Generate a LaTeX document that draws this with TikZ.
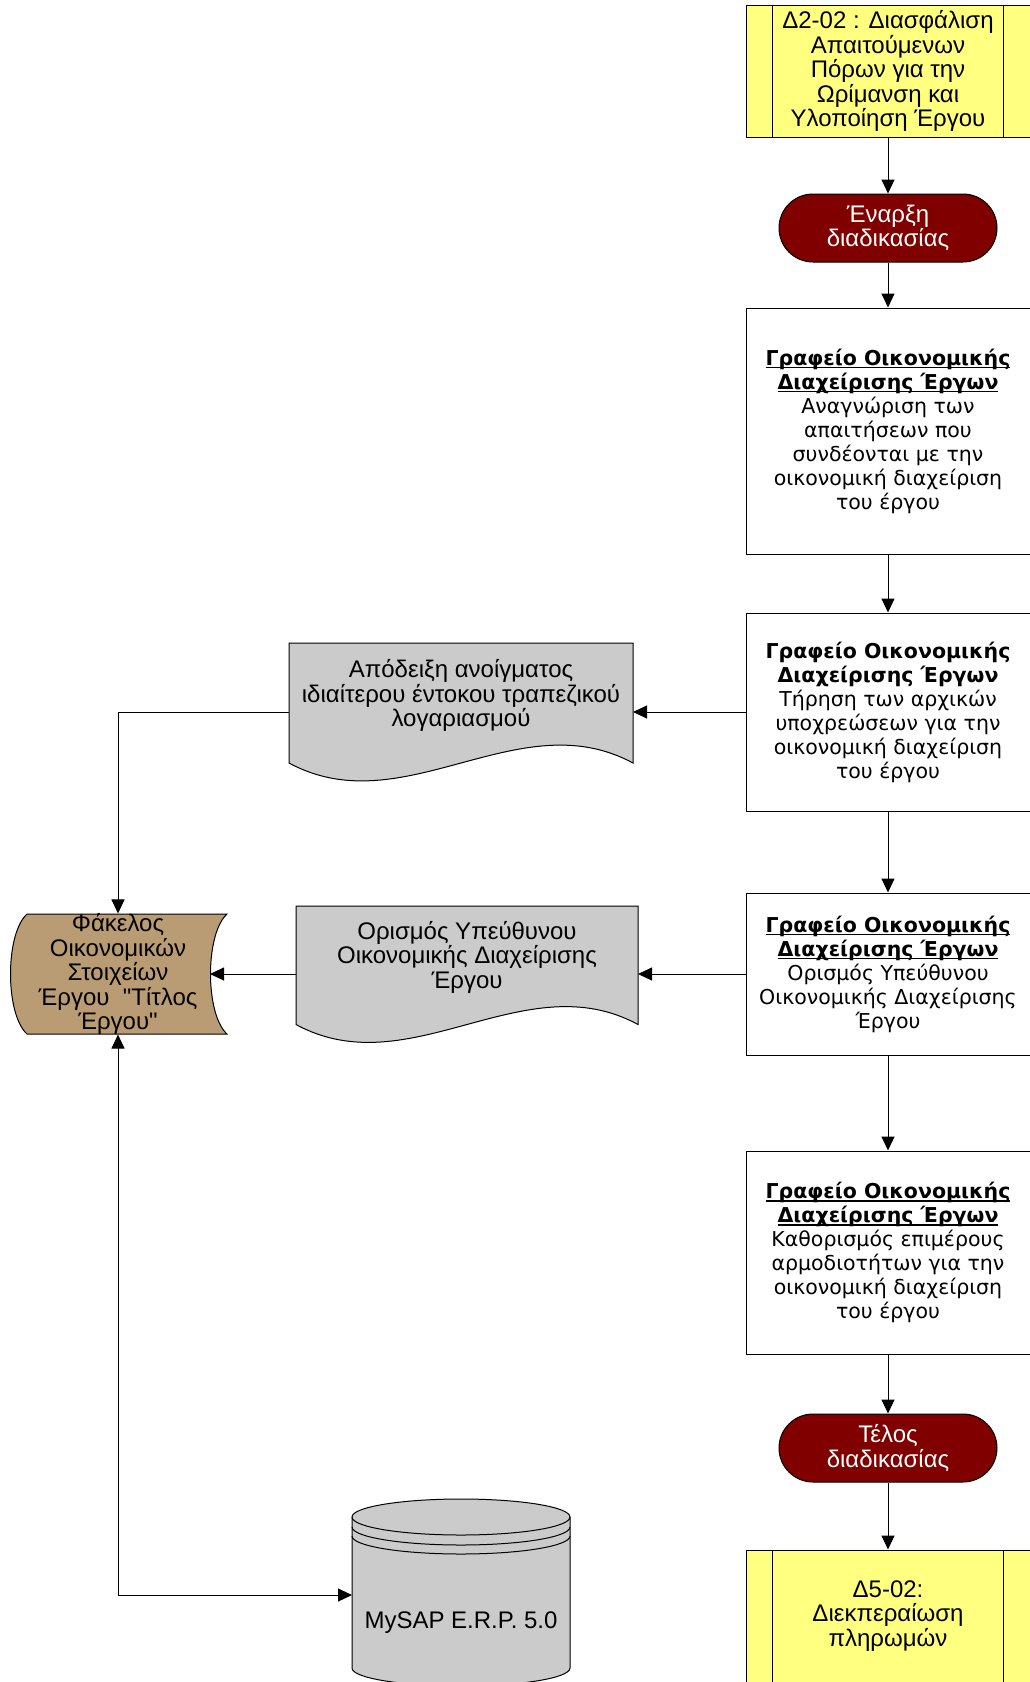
\documentclass[tikz,border=0pt]{standalone}
\usepackage{fontspec}
\setmainfont{Liberation Sans}
\newfontfamily\sqfont{Liberation Sans}[Ligatures=TeXOff]
\newfontfamily\vfont{DejaVu Sans}
\usetikzlibrary{arrows.meta}
\definecolor{yfill}{HTML}{FFFF80}
\definecolor{tred}{HTML}{800000}
\definecolor{dgray}{HTML}{CBCBCB}
\definecolor{fbrown}{HTML}{B99C73}
\newcommand\myul[1]{\setbox0\hbox{#1}\rlap{\rule[-3pt]{\wd0}{1.3pt}}\box0}
\newcommand\sq{{\sqfont"}}
\begin{document}
\begin{tikzpicture}[x=1pt,y=-1pt,line width=1pt,
  lsfont/.style={font=\fontsize{24}{24.5}\selectfont},
  ybox/.style={draw,fill=yfill,minimum width=284pt,minimum height=132pt,align=center,inner sep=0pt,lsfont},
  term/.style={draw,fill=tred,text=white,rounded corners=34pt,minimum width=218pt,minimum height=68pt,align=center,inner sep=0pt,lsfont},
  pbox/.style={draw,fill=white,minimum width=284pt,align=center,inner sep=0pt,font=\vfont\fontsize{20.5}{24}\selectfont},
  ghost/.style={inner sep=0pt,outer sep=0pt},
  dtext/.style={align=center,inner sep=0pt,lsfont},
  docshape/.style={draw,fill=dgray},
  arr/.style={-{Triangle[length=14pt,width=13pt]}},
  arrb/.style={{Triangle[length=14pt,width=13pt]}-{Triangle[length=14pt,width=13pt]}}
]
\fill[white] (0,0) rectangle (1029,1682);
\useasboundingbox (0,0) rectangle (1029,1682);

% right column
\node[ybox] (y1) at (888,71) {Δ2-02 : Διασφάλιση\\Απαιτούμενων\\Πόρων για την\\Ωρίμανση και\\Υλοποίηση Έργου};
\draw ([xshift=27pt]y1.north west) -- ([xshift=27pt]y1.south west);
\draw ([xshift=-27pt]y1.north east) -- ([xshift=-27pt]y1.south east);

\node[term] (st) at (888,228) {Έναρξη\\διαδικασίας};

\node[pbox,minimum height=246pt] (b1) at (888,431) {\myul{\textbf{Γραφείο Οικονομικής}}\\\myul{\textbf{Διαχείρισης Έργων}}\\Αναγνώριση των\\απαιτήσεων που\\συνδέονται με την\\οικονομική διαχείριση\\του έργου};

\node[pbox,minimum height=198pt] (b2) at (888,712) {\textbf{Γραφείο Οικονομικής}\\\textbf{Διαχείρισης Έργων}\\Τήρηση των αρχικών\\υποχρεώσεων για την\\οικονομική διαχείριση\\του έργου};

\node[pbox,minimum height=162pt] (b3) at (888,974) {\myul{\textbf{Γραφείο Οικονομικής}}\\\myul{\textbf{Διαχείρισης Έργων}}\\Ορισμός Υπεύθυνου\\Οικονομικής Διαχείρισης\\Έργου};

\node[pbox,minimum height=203pt] (b4) at (888,1252.5) {\myul{\textbf{Γραφείο Οικονομικής}}\\\myul{\textbf{Διαχείρισης Έργων}}\\Καθορισμός επιμέρους\\αρμοδιοτήτων για την\\οικονομική διαχείριση\\του έργου};

\node[term] (te) at (888,1448) {Τέλος\\διαδικασίας};

\node[ybox] (y2) at (888,1616) {Δ5-02:\\Διεκπεραίωση\\πληρωμών};
\draw ([xshift=27pt]y2.north west) -- ([xshift=27pt]y2.south west);
\draw ([xshift=-27pt]y2.north east) -- ([xshift=-27pt]y2.south east);

% documents
\draw[docshape] (289,643) -- (633,643) -- (633,763) .. controls (518.3,701) and (403.7,825) .. (289,763) -- cycle;
\node[ghost,minimum width=344pt,minimum height=120pt] (d1) at (461,712) {};
\node[dtext] (d1t) at (461,695.5) {Απόδειξη ανοίγματος\\ιδιαίτερου έντοκου τραπεζικού\\λογαριασμού};

\draw[docshape] (296,906) -- (638,906) -- (638,1024.5) .. controls (524,962.5) and (410,1086.5) .. (296,1024.5) -- cycle;
\node[ghost,minimum width=342pt,minimum height=118pt] (d2) at (467,974) {};
\node[dtext] (d2t) at (467,957) {Ορισμός Υπεύθυνου\\Οικονομικής Διαχείρισης\\Έργου};

% folder (stored data)
\draw[fill=fbrown] (27,914) -- (227,914) .. controls (205,934) and (205,1014) .. (227,1034) -- (27,1034) .. controls (5,1014) and (5,934) .. (27,914) -- cycle;
\node[ghost,minimum width=184pt,minimum height=120pt,align=center,lsfont] (fk) at (118,974) {Φάκελος\\Οικονομικών\\Στοιχείων\\Έργου\ \ \sq Τίτλος\\Έργου\sq};

% database cylinder
\path[fill=dgray,draw] (352,1517) -- (352,1668) arc[start angle=180,end angle=360,x radius=109pt,y radius=18pt] -- (570,1517) arc[start angle=0,end angle=180,x radius=109pt,y radius=18pt] -- cycle;
\draw (352,1517) arc[start angle=180,end angle=360,x radius=109pt,y radius=18pt];
\draw (352,1527) arc[start angle=180,end angle=360,x radius=109pt,y radius=18pt];
\draw (352,1536) arc[start angle=180,end angle=360,x radius=109pt,y radius=18pt];
\node[ghost,minimum width=218pt,minimum height=156pt] (sap) at (461,1595) {};
\node[dtext] (sapt) at (461,1623) {MySAP E.R.P. 5.0};

% connectors
\draw[arr] (y1.south) -- (st.north);
\draw[arr] (st.south) -- (b1.north);
\draw[arr] (b1.south) -- (b2.north);
\draw[arr] (b2.south) -- (b3.north);
\draw[arr] (b3.south) -- (b4.north);
\draw[arr] (b4.south) -- (te.north);
\draw[arr] (te.south) -- (y2.north);
\draw[arr] (b2.west) -- (d1.east);
\draw[arr] (d1.west) -| (fk.north);
\draw[arr] (b3.west) -- (d2.east);
\draw[arr] (d2.west) -- (fk.east);
\draw[arrb] (fk.south) |- (sap.west);
\end{tikzpicture}
\end{document}
